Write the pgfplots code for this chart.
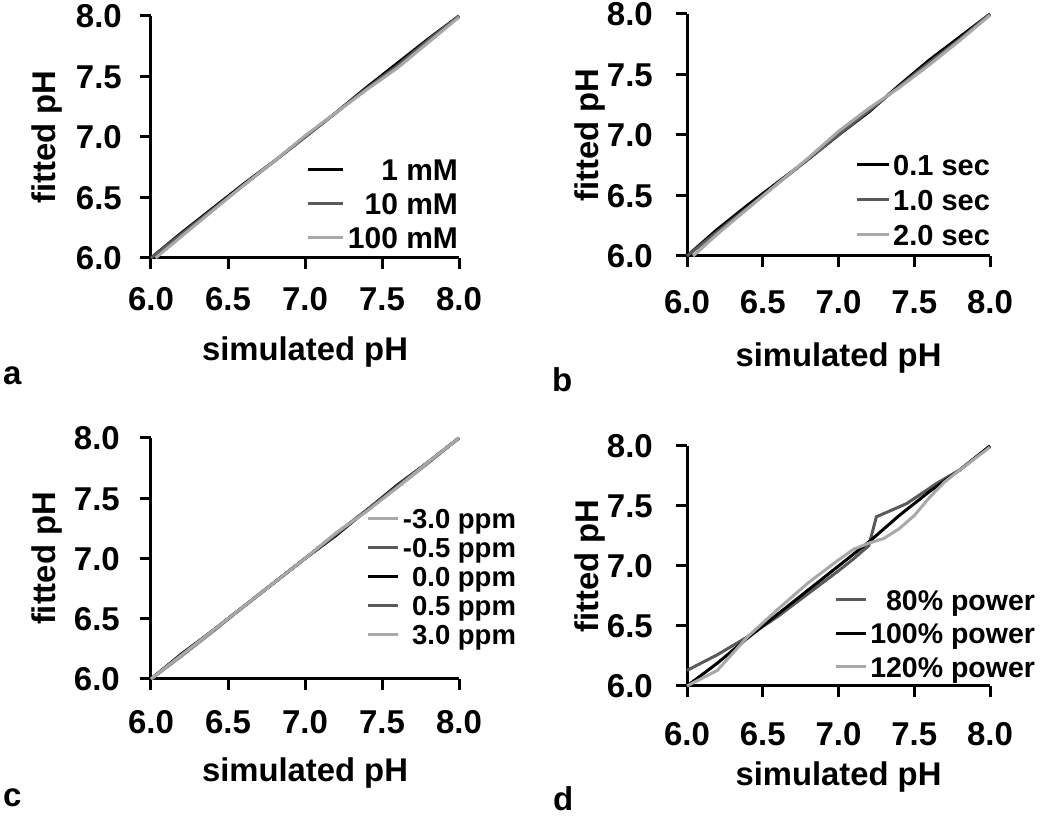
\documentclass[border=0pt]{standalone}
\usepackage{pgfplots}
\pgfplotsset{compat=1.18}
\usepackage{fontspec}
\setmainfont{Liberation Sans}
\definecolor{dk}{HTML}{5A5A5A}
\definecolor{lt}{HTML}{A8A8A8}

\pgfplotsset{
  panel/.style={
    scale only axis,
    axis lines*=left,
    axis line style={line width=3pt, black},
    xmin=6, xmax=8, ymin=6, ymax=8,
    xtick={6,6.5,7,7.5,8}, ytick={6,6.5,7,7.5,8},
    tick align=outside, major tick length=11pt,
    tick style={line width=3pt, black},
    ticklabel style={font=\fontsize{33}{33}\selectfont\bfseries, inner sep=0pt, text height=23.6pt, text depth=0pt},
    /pgf/number format/.cd, fixed, fixed zerofill, precision=1, assume math mode=true, /pgfplots/.cd,
    clip=false,
    every axis x label/.style={at={(axis description cs:0.5,0)}, anchor=north, inner sep=0pt, font=\fontsize{32.8}{32.8}\selectfont\bfseries},
    every axis y label/.style={at={(axis description cs:0,0.5)}, rotate=90, anchor=north, inner sep=0pt, font=\fontsize{32.8}{32.8}\selectfont\bfseries},
    xlabel={simulated pH}, ylabel={fitted pH},
    legend cell align=right,
    every axis plot/.append style={line width=3pt},
  },
  leg/.style n args={6}{% fontsize, above, below, xshift, yshift, line length
    legend style={draw=none, fill=none, at={(rel axis cs:1,0)}, anchor=south east,
      xshift=#4, yshift=#5, inner sep=0pt, outer sep=0pt, row sep=0pt, column sep=3pt,
      font=\fontsize{#1}{#1}\selectfont\bfseries,
      nodes={inner sep=0pt, text height=#2, text depth=#3}},
    legend image code/.code={\draw[##1, line width=3pt] (0pt,0pt) -- (#6,0pt);},
  },
}

\begin{document}
\begin{tikzpicture}
\path[use as bounding box] (0pt,0pt) rectangle (1050pt,816pt);

% panel a
\begin{axis}[panel, at={(151pt,558pt)}, anchor=south west, width=308pt, height=242pt,
  yticklabel shift=18pt, xticklabel shift=18pt,
  xlabel style={yshift=-79pt}, ylabel style={at={([xshift=-119pt]axis description cs:0,0.5)}},
  leg={30}{27.75pt}{6.25pt}{-1pt}{3pt}{35pt}]
\addplot[black] coordinates {(6.0,6.0) (6.2,6.21) (6.4,6.41) (6.6,6.61) (6.8,6.80) (7.0,7.00) (7.2,7.20) (7.4,7.41) (7.6,7.61) (7.8,7.81) (8.0,8.0)};
\addlegendentry{1 mM}
\addplot[dk] coordinates {(6.0,6.0) (6.2,6.20) (6.4,6.40) (6.6,6.60) (6.8,6.80) (7.0,7.00) (7.2,7.20) (7.4,7.40) (7.6,7.59) (7.8,7.80) (8.0,8.0)};
\addlegendentry{10 mM}
\addplot[lt] coordinates {(6.03,6.0) (6.2,6.18) (6.4,6.39) (6.6,6.60) (6.8,6.80) (7.0,7.01) (7.2,7.20) (7.4,7.39) (7.6,7.57) (7.8,7.78) (8.0,7.99)};
\addlegendentry{100 mM}
\end{axis}

% panel b
\begin{axis}[panel, at={(687pt,560pt)}, anchor=south west, width=303pt, height=242pt,
  yticklabel shift=23pt, xticklabel shift=23pt,
  xlabel style={yshift=-87pt}, ylabel style={at={([xshift=-112pt]axis description cs:0,0.5)}},
  leg={29}{27.9pt}{7.1pt}{0pt}{3.5pt}{32pt}]
\addplot[black] coordinates {(6.0,6.0) (6.2,6.22) (6.4,6.42) (6.6,6.61) (6.8,6.80) (7.0,7.00) (7.2,7.19) (7.4,7.41) (7.6,7.62) (7.8,7.81) (8.0,8.0)};
\addlegendentry{0.1 sec}
\addplot[dk] coordinates {(6.0,6.0) (6.2,6.20) (6.4,6.40) (6.6,6.60) (6.8,6.80) (7.0,7.00) (7.2,7.20) (7.4,7.40) (7.6,7.60) (7.8,7.79) (8.0,8.0)};
\addlegendentry{1.0 sec}
\addplot[lt] coordinates {(6.04,6.0) (6.2,6.18) (6.4,6.39) (6.6,6.60) (6.8,6.81) (7.0,7.03) (7.2,7.22) (7.4,7.39) (7.6,7.58) (7.8,7.78) (8.0,7.99)};
\addlegendentry{2.0 sec}
\end{axis}

% panel c
\begin{axis}[panel, at={(151pt,137pt)}, anchor=south west, width=308pt, height=241pt,
  yticklabel shift=20pt, xticklabel shift=20pt,
  xlabel style={yshift=-79pt}, ylabel style={at={([xshift=-119pt]axis description cs:0,0.5)}},
  leg={27.5}{24.35pt}{4.65pt}{57pt}{29.5pt}{30pt}]
\addplot[lt] coordinates {(6.0,6.0) (6.2,6.19) (6.4,6.39) (6.6,6.60) (6.8,6.80) (7.0,7.00) (7.2,7.21) (7.4,7.40) (7.6,7.59) (7.8,7.79) (8.0,8.0)};
\addlegendentry{-3.0 ppm}
\addplot[dk] coordinates {(6.0,6.0) (6.2,6.20) (6.4,6.40) (6.6,6.60) (6.8,6.80) (7.0,7.00) (7.2,7.20) (7.4,7.40) (7.6,7.60) (7.8,7.80) (8.0,8.0)};
\addlegendentry{-0.5 ppm}
\addplot[black] coordinates {(6.0,6.0) (6.2,6.21) (6.4,6.40) (6.6,6.60) (6.8,6.80) (7.0,7.00) (7.2,7.19) (7.4,7.40) (7.6,7.61) (7.8,7.80) (8.0,8.0)};
\addlegendentry{0.0 ppm}
\addplot[dk] coordinates {(6.0,6.0) (6.2,6.20) (6.4,6.40) (6.6,6.60) (6.8,6.80) (7.0,7.00) (7.2,7.20) (7.4,7.40) (7.6,7.60) (7.8,7.80) (8.0,8.0)};
\addlegendentry{0.5 ppm}
\addplot[lt] coordinates {(6.0,6.0) (6.2,6.20) (6.4,6.40) (6.6,6.60) (6.8,6.80) (7.0,7.00) (7.2,7.21) (7.4,7.39) (7.6,7.59) (7.8,7.80) (8.0,8.0)};
\addlegendentry{3.0 ppm}
\end{axis}

% panel d
\begin{axis}[panel, at={(687pt,130pt)}, anchor=south west, width=303pt, height=240pt,
  yticklabel shift=23pt, xticklabel shift=25pt,
  xlabel style={yshift=-76pt}, ylabel style={at={([xshift=-112pt]axis description cs:0,0.5)}},
  leg={28.5}{26.95pt}{6.55pt}{45pt}{2.25pt}{30pt}]
\addplot[dk] coordinates {(6.0,6.13) (6.2,6.26) (6.4,6.41) (6.6,6.58) (6.8,6.77) (7.0,6.96) (7.1,7.06) (7.2,7.17) (7.25,7.41) (7.45,7.52) (7.65,7.69) (7.8,7.80) (8.0,8.0)};
\addlegendentry{80\% power}
\addplot[black] coordinates {(6.0,6.0) (6.2,6.19) (6.4,6.40) (6.6,6.60) (6.8,6.80) (7.0,7.00) (7.2,7.20) (7.4,7.42) (7.6,7.62) (7.8,7.80) (8.0,8.0)};
\addlegendentry{100\% power}
\addplot[lt] coordinates {(6.0,6.0) (6.2,6.13) (6.4,6.41) (6.6,6.64) (6.8,6.86) (7.0,7.05) (7.1,7.14) (7.2,7.19) (7.3,7.23) (7.4,7.31) (7.5,7.42) (7.6,7.57) (7.7,7.70) (7.8,7.80) (8.0,7.99)};
\addlegendentry{120\% power}
\end{axis}

\begin{scope}[every node/.style={inner sep=0pt, anchor=base west, font=\fontsize{33}{33}\selectfont\bfseries}]
\node at (3pt,431pt) {a};
\node at (552pt,424pt) {b};
\node at (3pt,9pt) {c};
\node at (553pt,5pt) {d};
\end{scope}
\end{tikzpicture}
\end{document}
